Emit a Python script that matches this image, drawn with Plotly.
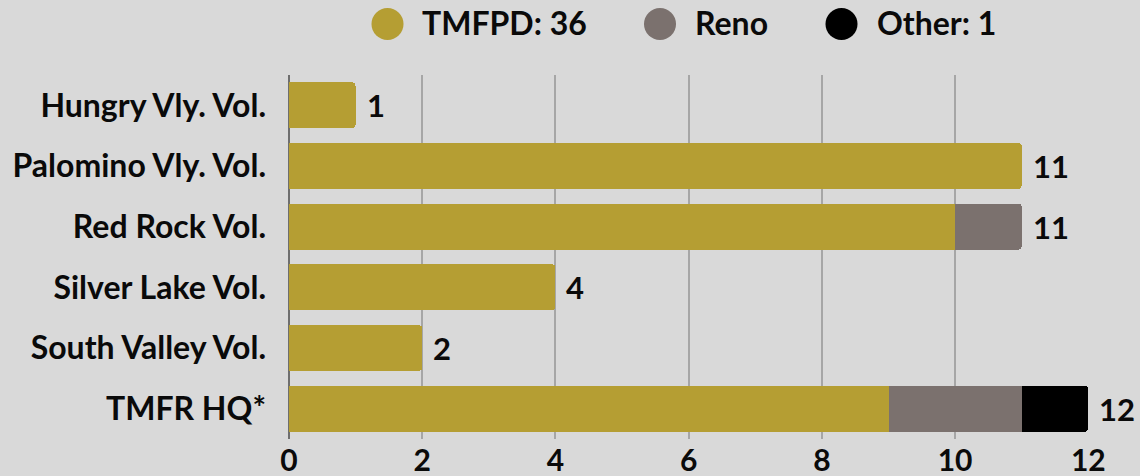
import plotly.graph_objects as go

categories = ["Hungry Vly. Vol.", "Palomino Vly. Vol.", "Red Rock Vol.",
              "Silver Lake Vol.", "South Valley Vol.", "TMFR HQ*"]
tmfpd = [1, 11, 10, 4, 2, 9]
reno = [0, 0, 1, 0, 0, 2]
other = [0, 0, 0, 0, 0, 1]
series_names = ["TMFPD: 36", "Reno", "Other: 1"]
colors = ["#b59e33", "#7b716e", "#000000"]
x_ticks = [0, 2, 4, 6, 8, 10, 12]

totals = [a + b + c for a, b, c in zip(tmfpd, reno, other)]

W, H = 1140, 476
ML, MR, MT, MB = 289, 51, 75, 37
BG = "#d9d9d9"
FONT = dict(family="Lato", color="#0a0a0a", weight="bold")


def px_x(X):
    return (X - ML) / (W - ML - MR)


def px_y(Y):
    return (H - MB - Y) / (H - MT - MB)


fig = go.Figure()
for name, vals, col in zip(series_names, [tmfpd, reno, other], colors):
    fig.add_trace(go.Bar(
        y=categories, x=vals, orientation="h", name=name,
        marker=dict(color=col, line=dict(width=0)),
        showlegend=False, hoverinfo="x+y",
    ))

for cat, tot in zip(categories, totals):
    fig.add_annotation(x=tot, y=cat, text=str(tot), showarrow=False,
                       xanchor="left", xshift=9,
                       font=dict(size=31, **FONT))

# custom legend (large circles) at top
legend_circle_x = [387.5, 660, 841.5]
legend_text_x = [420, 693, 875]
legend_y = 24
for name, col, cx, tx in zip(series_names, colors, legend_circle_x, legend_text_x):
    fig.add_shape(type="circle", xref="paper", yref="paper",
                  xsizemode="pixel", ysizemode="pixel",
                  xanchor=px_x(cx), yanchor=px_y(legend_y),
                  x0=-16, x1=16, y0=-16, y1=16,
                  fillcolor=col, line=dict(width=0))
    fig.add_annotation(xref="paper", yref="paper", x=px_x(tx), y=px_y(legend_y - 2),
                       text=name, showarrow=False, xanchor="left", yanchor="middle",
                       font=dict(size=32, **FONT))

fig.update_layout(
    width=W, height=H,
    barmode="stack", bargap=0.24, barcornerradius=4,
    paper_bgcolor=BG, plot_bgcolor=BG,
    margin=dict(l=ML, r=MR, t=MT, b=MB, autoexpand=False),
    font=dict(size=30, **FONT),
    showlegend=False,
    xaxis=dict(range=[0, 12.01], tickvals=x_ticks, showgrid=True,
               gridcolor="#a6a6a6", gridwidth=2, zeroline=True,
               zerolinecolor="#6e6e6e", zerolinewidth=2, automargin=False,
               tickfont=dict(size=30, **FONT), ticks="", ticklabelstandoff=1,
               fixedrange=True),
    yaxis=dict(autorange="reversed", tickfont=dict(size=32, **FONT),
               automargin=False,
               ticks="", ticklabelstandoff=22, showgrid=False),
)

fig.write_html("out.html",
               config={"displayModeBar": False},
               post_script="document.body.style.margin='0';"
                           "document.body.style.background='" + BG + "';")
